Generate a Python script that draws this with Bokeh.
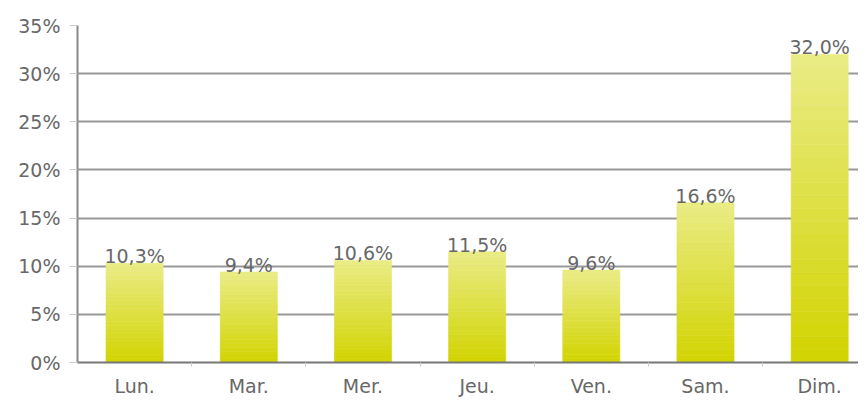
from bokeh.plotting import figure
from bokeh.models import Range1d, FixedTicker, ColumnDataSource, CustomJSTickFormatter
from bokeh.embed import file_html
from bokeh.resources import INLINE
from bokeh.core.properties import value

days = ["Lun.", "Mar.", "Mer.", "Jeu.", "Ven.", "Sam.", "Dim."]
shares = [10.3, 9.4, 10.6, 11.5, 9.6, 16.6, 32.0]
y_ticks = [0, 5, 10, 15, 20, 25, 30, 35]

xs = [i + 0.5 for i in range(len(days))]
labels = [("%.1f" % v).replace(".", ",") + "%" for v in shares]

FONT = "DejaVu Sans"
TXT = "#686868"

p = figure(width=858, height=399, output_backend="svg", toolbar_location=None,
           x_range=Range1d(0, 6.84), y_range=Range1d(0, 35),
           min_border_left=77, min_border_right=0, min_border_top=25, min_border_bottom=31)
p.outline_line_color = None
p.background_fill_color = "white"
p.border_fill_color = "white"

# vertical gradient approximated by bands
N = 24
c0 = (0xd2, 0xd4, 0x00)
c1 = (0xe9, 0xeb, 0x86)
for k in range(N):
    t = (k + 0.5) / N
    col = "#%02x%02x%02x" % tuple(int(round(a + (b - a) * t)) for a, b in zip(c0, c1))
    bottoms = [v * k / N for v in shares]
    tops = [v * (k + 1) / N for v in shares]
    p.vbar(x=xs, bottom=bottoms, top=tops, width=0.5, fill_color=col, line_color=col, line_width=0.6)

src = ColumnDataSource(dict(x=xs, y=shares, t=labels))
p.text(x="x", y="y", text="t", source=src, text_align="center", text_baseline="alphabetic",
       y_offset=-7, text_font=value(FONT), text_font_size="19px", text_color=TXT)

p.xaxis.ticker = FixedTicker(ticks=xs, minor_ticks=[1, 2, 3, 4, 5, 6])
p.xaxis.major_label_overrides = {x: d for x, d in zip(xs, days)}
p.xaxis.major_tick_line_color = None
p.xaxis.major_tick_out = 0
p.xaxis.major_tick_in = 0
p.xaxis.minor_tick_out = 4
p.xaxis.minor_tick_in = 0
p.xaxis.minor_tick_line_color = "#cccccc"
p.xaxis.axis_line_color = "#777777"
p.xaxis.axis_line_width = 2
p.xaxis.major_label_standoff = 8
p.xaxis.major_label_text_font = FONT
p.xaxis.major_label_text_font_size = "19px"
p.xaxis.major_label_text_color = TXT

p.yaxis.ticker = FixedTicker(ticks=y_ticks, minor_ticks=[])
p.yaxis.formatter = CustomJSTickFormatter(code="return tick + '%';")
p.yaxis.major_tick_out = 8
p.yaxis.major_tick_in = 0
p.yaxis.major_tick_line_color = "#cccccc"
p.yaxis.axis_line_color = "#888888"
p.yaxis.axis_line_width = 2
p.yaxis.major_label_standoff = 9
p.yaxis.major_label_text_font = FONT
p.yaxis.major_label_text_font_size = "19px"
p.yaxis.major_label_text_color = TXT

p.xgrid.grid_line_color = None
p.ygrid.grid_line_color = "#999999"
p.ygrid.grid_line_width = 2

open("out.html", "w").write(file_html(p, INLINE))
